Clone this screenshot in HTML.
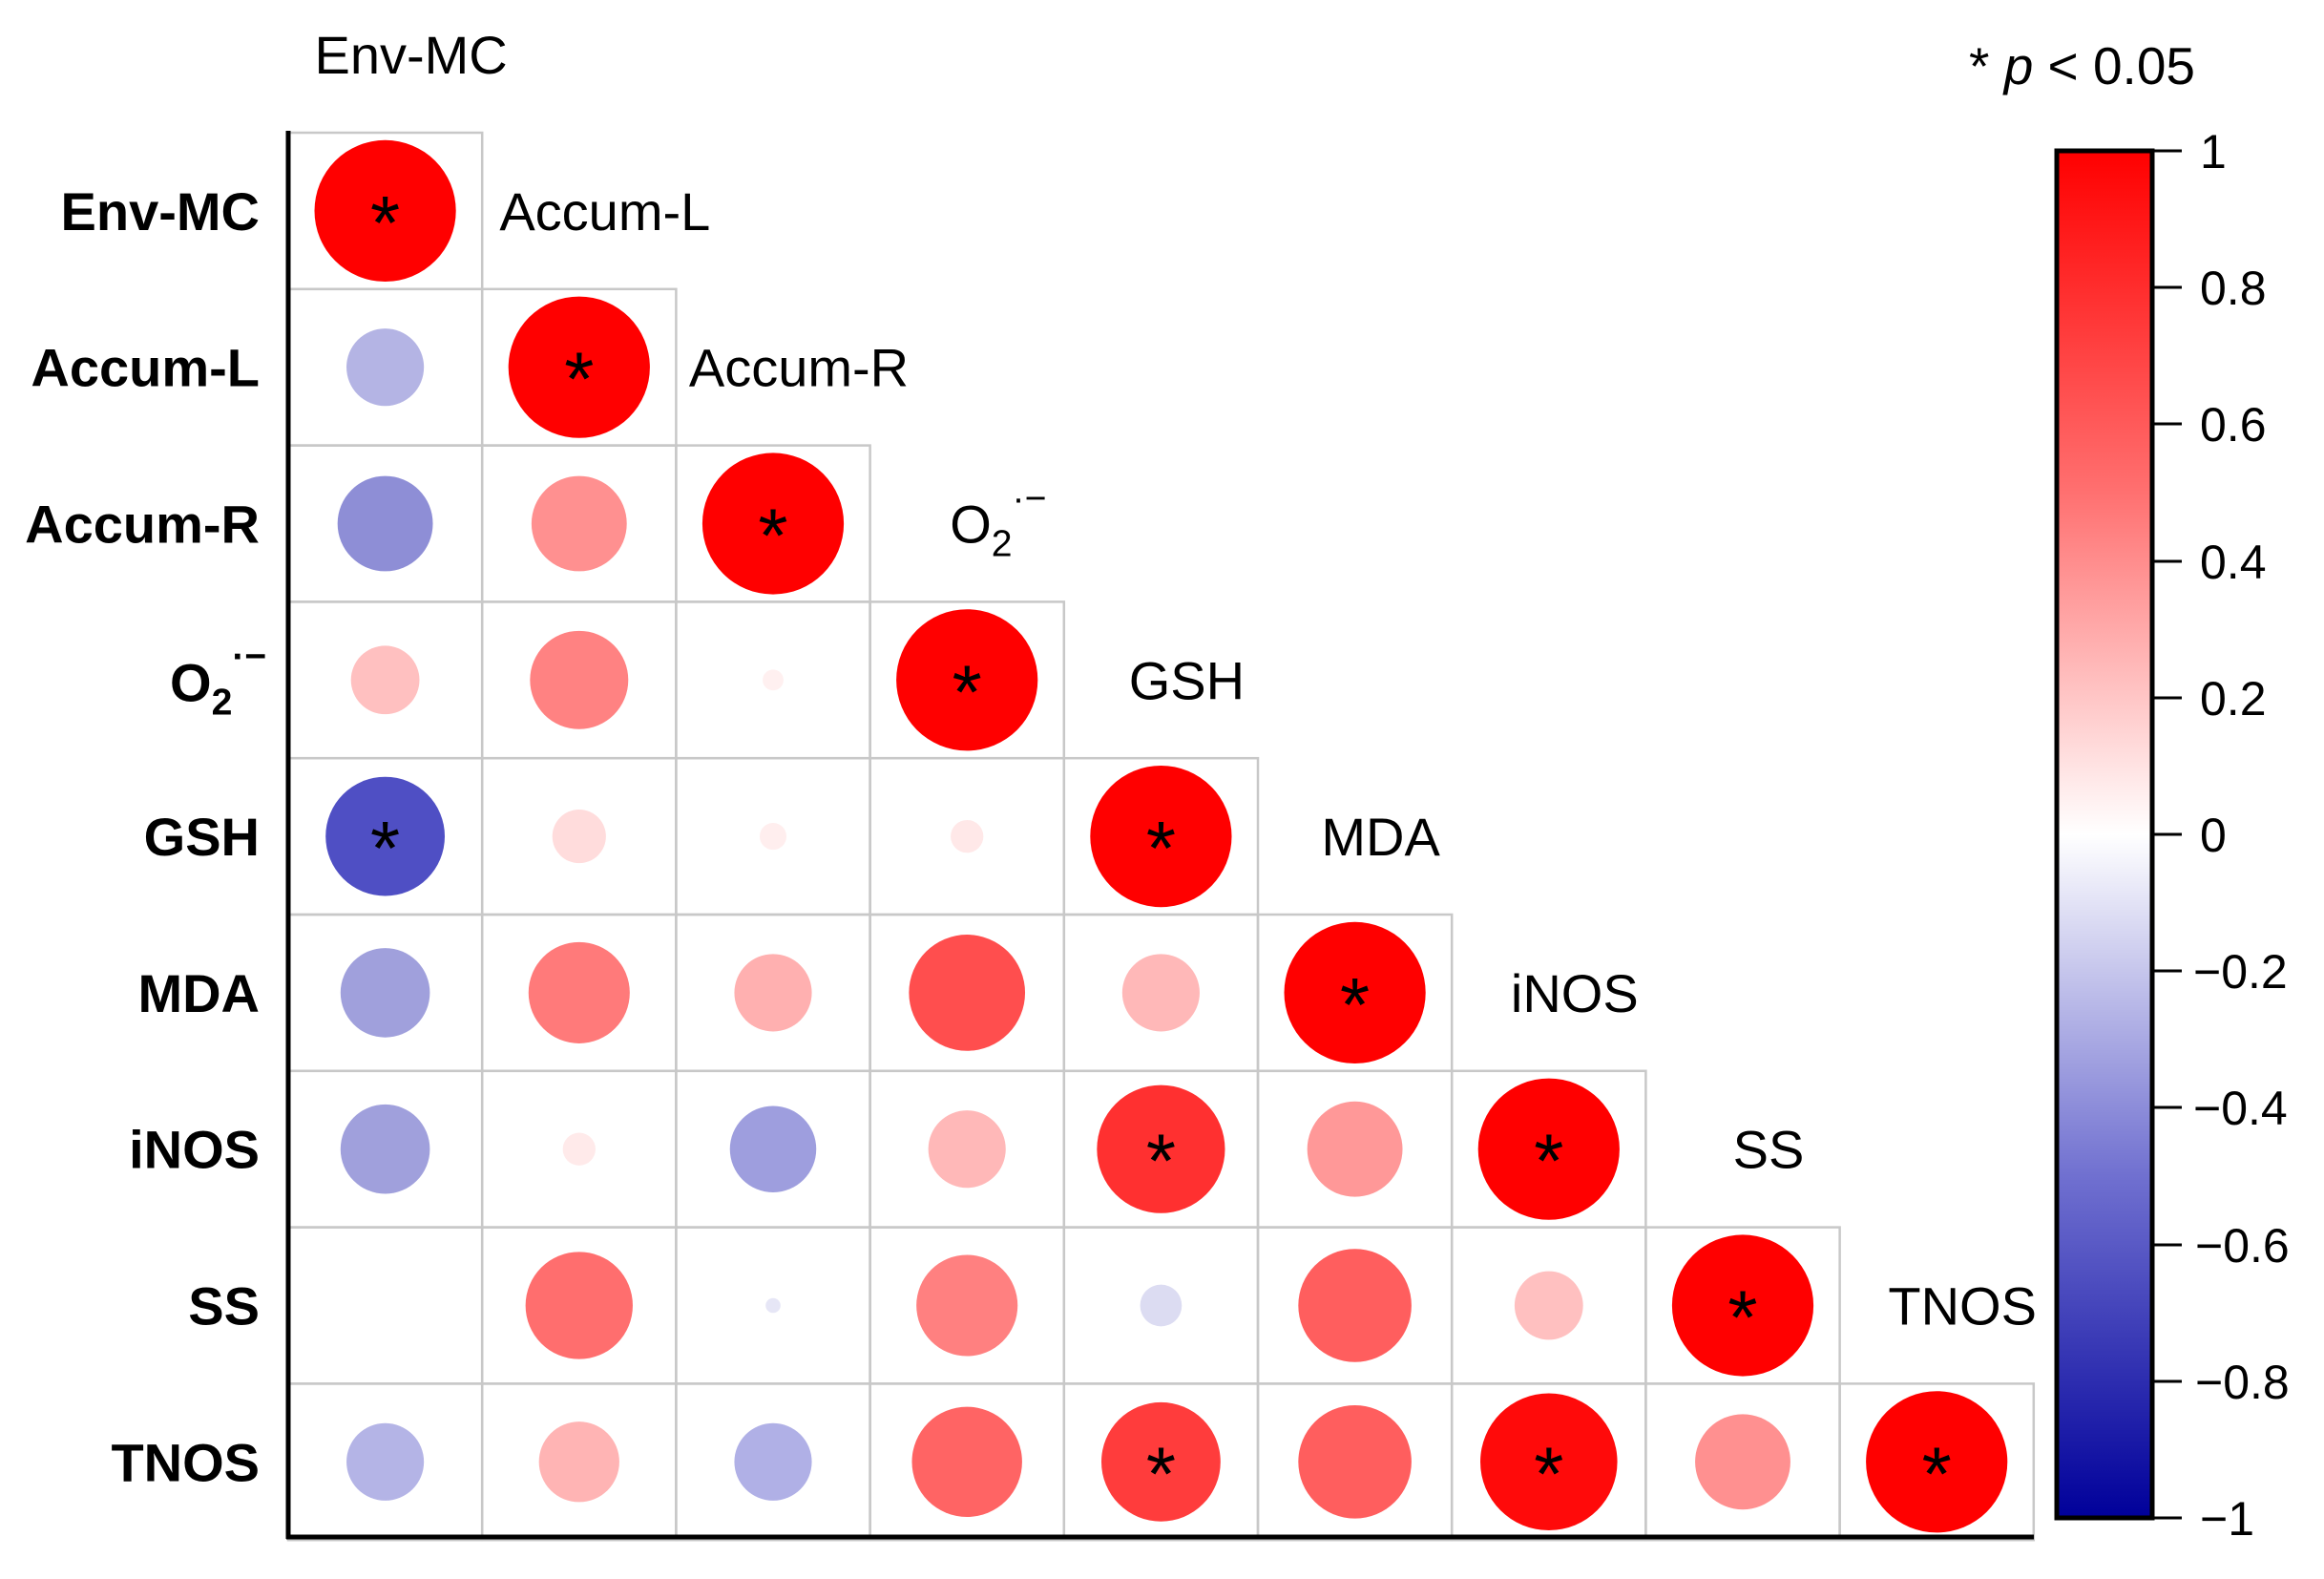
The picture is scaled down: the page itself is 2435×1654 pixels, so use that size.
<!DOCTYPE html>
<html><head><meta charset="utf-8"><style>
html,body{margin:0;padding:0;background:#fff;}
svg{display:block;}
text{font-family:"Liberation Sans",Arial,sans-serif;}
</style></head><body>
<svg width="2435" height="1654" viewBox="0 0 2435 1654" xmlns="http://www.w3.org/2000/svg">
<defs>
<linearGradient id="cb" x1="0" y1="0" x2="0" y2="1">
<stop offset="0" stop-color="#ff0000"/>
<stop offset="0.25" stop-color="#ff7070"/>
<stop offset="0.5" stop-color="#ffffff"/>
<stop offset="0.75" stop-color="#7070d0"/>
<stop offset="1" stop-color="#00009a"/>
</linearGradient>
</defs>
<g fill="none" stroke="#c8c8c8" stroke-width="2.5" id="grid"></g>
<g id="circ"></g>
<g id="lab"></g>
<line x1="302" y1="137" x2="302" y2="1612" stroke="#000" stroke-width="5"/>
<line x1="300" y1="1610" x2="2131" y2="1610" stroke="#000" stroke-width="5"/>
<rect x="2155" y="158" width="100" height="1432" fill="url(#cb)" stroke="#000" stroke-width="5"/>
<g stroke="#000" stroke-width="3">
<line x1="2257" y1="158" x2="2286" y2="158"/><line x1="2257" y1="301" x2="2286" y2="301"/>
<line x1="2257" y1="444" x2="2286" y2="444"/><line x1="2257" y1="588" x2="2286" y2="588"/>
<line x1="2257" y1="731" x2="2286" y2="731"/><line x1="2257" y1="874" x2="2286" y2="874"/>
<line x1="2257" y1="1017" x2="2286" y2="1017"/><line x1="2257" y1="1160" x2="2286" y2="1160"/>
<line x1="2257" y1="1304" x2="2286" y2="1304"/><line x1="2257" y1="1447" x2="2286" y2="1447"/>
<line x1="2257" y1="1590" x2="2286" y2="1590"/>
</g>
<g font-size="50" fill="#000">
<text x="2305" y="176">1</text><text x="2305" y="319">0.8</text>
<text x="2305" y="462">0.6</text><text x="2305" y="606">0.4</text>
<text x="2305" y="749">0.2</text><text x="2305" y="892">0</text>
<text x="2298" y="1035">−0.2</text><text x="2298" y="1178">−0.4</text>
<text x="2300" y="1322">−0.6</text><text x="2300" y="1465">−0.8</text>
<text x="2305" y="1608">−1</text>
</g>
<text x="2063" y="88" font-size="55">* <tspan font-style="italic">p</tspan> &lt; 0.05</text>
<script>
var cw=203.2,rh=163.8,x0=302,y0=139;
var ns="http://www.w3.org/2000/svg";
function el(t,a,p,txt){var e=document.createElementNS(ns,t);for(var k in a)e.setAttribute(k,a[k]);if(txt!==undefined)e.textContent=txt;(typeof p=="string"?document.getElementById(p):p).appendChild(e);return e;}
var D=[
[],
[[52,"#b4b4e4"]],
[[64,"#8e8ed6"],[64,"#ff9090"]],
[[46,"#ffc0c0"],[66,"#ff8282"],[14,"#fff0f0"]],
[[80,"#4f4fc4",1],[36,"#ffdcdc"],[18,"#ffeeee"],[22,"#ffe8e8"]],
[[60,"#a0a0dc"],[68,"#ff7a7a"],[52,"#ffb0b0"],[78,"#ff4e4e"],[52,"#ffb8b8"]],
[[60,"#a0a0dc"],[22,"#ffeaea"],[58,"#9e9ede"],[52,"#ffb8b8"],[86,"#ff3030",1],[64,"#ff9898"]],
[[0,"#fff"],[72,"#ff6e6e"],[10,"#e6e6f6"],[68,"#ff8080"],[28,"#dcdcf2"],[76,"#ff5e5e"],[46,"#ffc0c0"]],
[[52,"#b4b4e6"],[54,"#ffb4b4"],[52,"#b0b0e6"],[74,"#ff6464"],[80,"#ff3c3c",1],[76,"#ff5e5e"],[92,"#ff0a0a",1],[64,"#ff9090"]]
];
var names=["Env-MC","Accum-L","Accum-R","O2","GSH","MDA","iNOS","SS","TNOS"];
function o2(x,y,fs,bold){
 var a={x:x,y:y,"font-size":fs};if(bold)a["font-weight"]="bold";
 var t=el("text",a,"lab","O");
 el("tspan",{"font-size":fs*0.7,dy:fs*0.25},t,"2");
 el("tspan",{"font-size":fs*0.7,dy:-fs*0.85},t,"·−");
}
for(var i=0;i<9;i++){
 var cy=y0+rh*(i+0.5);
 for(var j=0;j<=i;j++){
  var cx=x0+cw*(j+0.5);
  el("rect",{x:x0+cw*j,y:y0+rh*i,width:cw,height:rh},"grid");
  var d,c,s;
  if(j==i){d=95;c="#ff0000";s=1;}else{d=D[i][j][0];c=D[i][j][1];s=D[i][j][2];}
  if(d>0)el("circle",{cx:cx,cy:cy,r:d*0.78,fill:c},"circ");
  if(s)el("text",{x:cx,y:cy+40,"font-size":80,"text-anchor":"middle"},"lab","*");
 }
 if(i==3){ o2(178,cy+22,56,true); }
 else el("text",{x:272,y:cy+20,"font-size":56,"font-weight":"bold","text-anchor":"end"},"lab",names[i]);
 var lc=x0+cw*(i+0.5)+27, ly=y0+rh*(i-0.5)+20;
 if(i==3){ o2(lc-45,ly,56,false); }
 else el("text",{x:lc,y:ly,"font-size":56,"text-anchor":"middle"},"lab",names[i]);
}
</script>
</svg>
</body></html>
